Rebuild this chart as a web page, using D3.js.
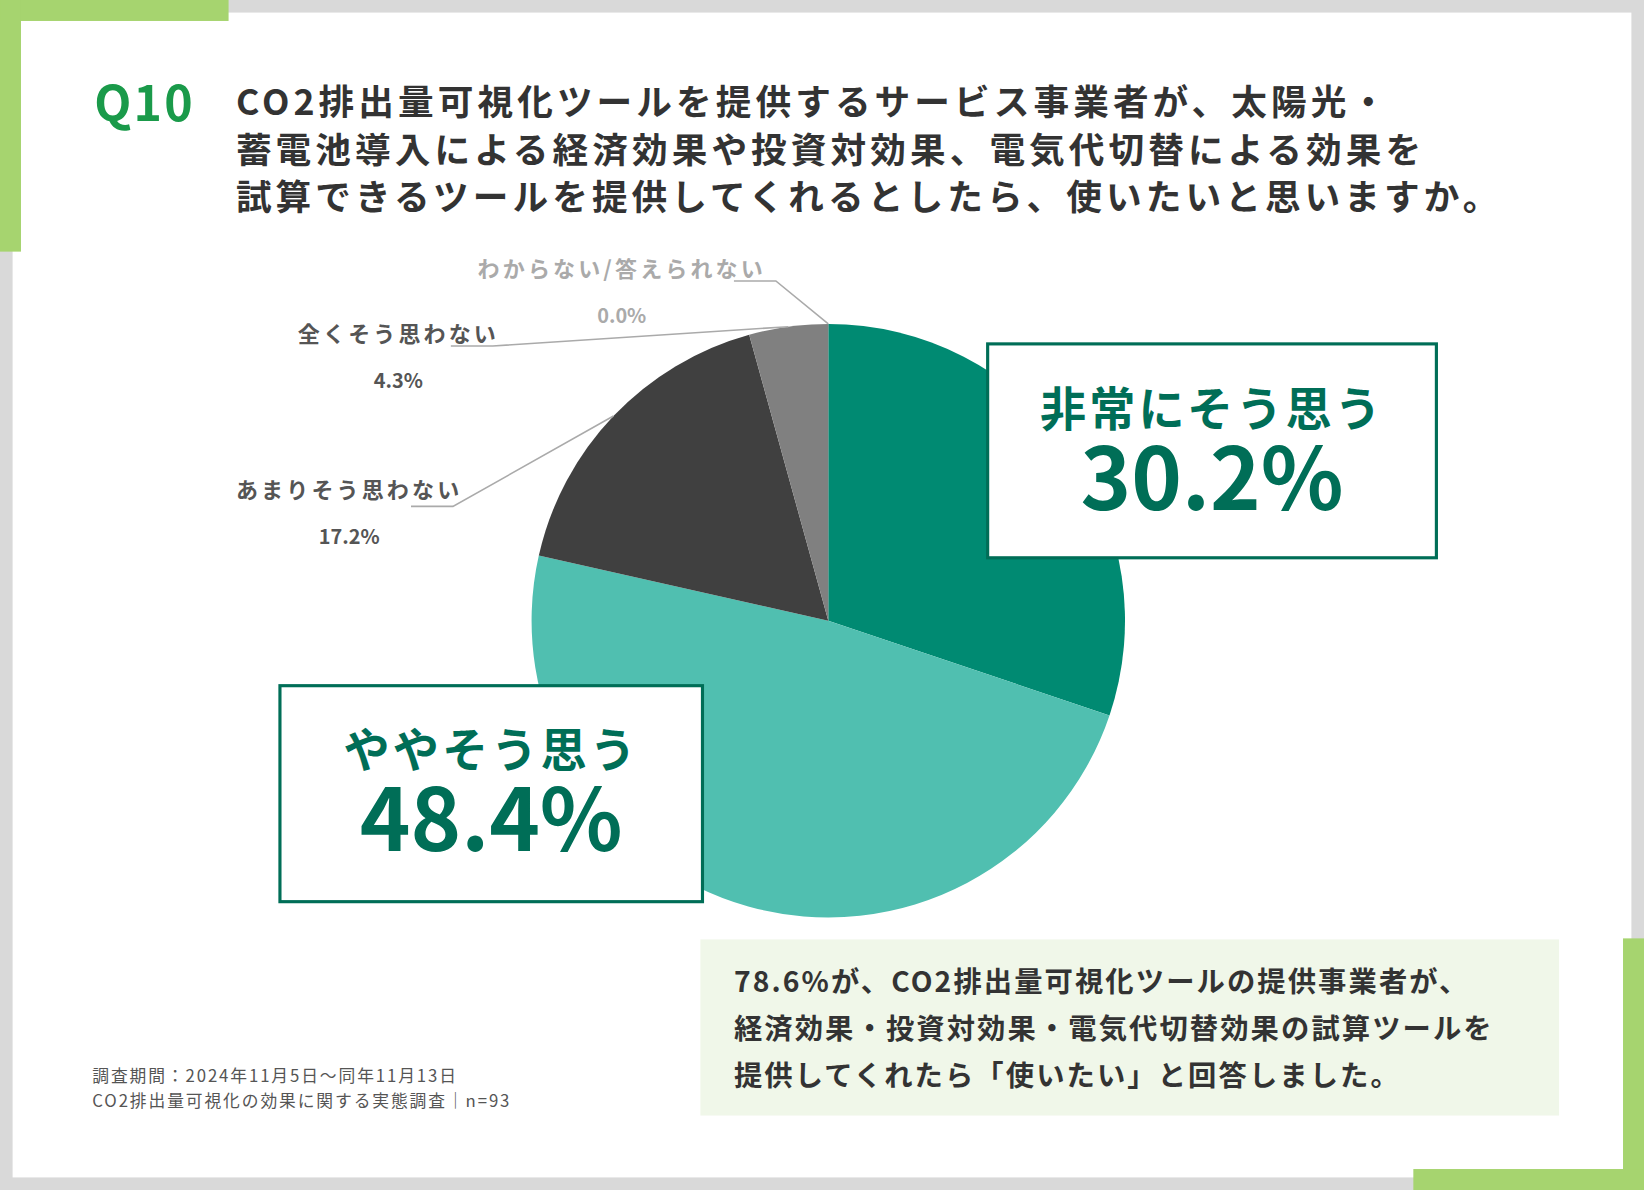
<!DOCTYPE html>
<html lang="ja">
<head>
<meta charset="utf-8">
<script src="https://cdn.jsdelivr.net/npm/d3@7"></script>
<style>
body { margin: 0; background: #fff; }
text { font-family: "Noto Sans CJK JP", "Noto Sans", sans-serif; }
</style>
</head>
<body>
<script>
var categories = ["非常にそう思う", "ややそう思う", "あまりそう思わない", "全くそう思わない", "わからない/答えられない"];
var values = [30.2, 48.4, 17.2, 4.3, 0.0];
var colors = ["#008a72", "#50bfb0", "#404040", "#808080", "#bbbbbb"];
var titleLines = ["CO2排出量可視化ツールを提供するサービス事業者が、太陽光・",
                  "蓄電池導入による経済効果や投資対効果、電気代切替による効果を",
                  "試算できるツールを提供してくれるとしたら、使いたいと思いますか。"];
var noteLines = ["78.6%が、CO2排出量可視化ツールの提供事業者が、",
                 "経済効果・投資対効果・電気代切替効果の試算ツールを",
                 "提供してくれたら「使いたい」と回答しました。"];
var footLines = ["調査期間：2024年11月5日～同年11月13日", "CO2排出量可視化の効果に関する実態調査｜n=93"];

var W = 1568, H = 1135;
var svg = d3.select("body").append("svg")
    .attr("width", 1644).attr("height", 1190)
    .attr("viewBox", "0 0 " + W + " " + H);

// frame
svg.append("rect").attr("width", W).attr("height", H).attr("fill", "#d9d9d9");
svg.append("rect").attr("x", 12).attr("y", 12).attr("width", W - 24).attr("height", H - 24).attr("fill", "#fff");
var green = "#a6d46f";
svg.append("rect").attr("x", 0).attr("y", 0).attr("width", 218).attr("height", 20).attr("fill", green);
svg.append("rect").attr("x", 0).attr("y", 0).attr("width", 20).attr("height", 240).attr("fill", green);
svg.append("rect").attr("x", 1548).attr("y", 895).attr("width", 20).attr("height", 240).attr("fill", green);
svg.append("rect").attr("x", 1348).attr("y", 1115).attr("width", 220).attr("height", 20).attr("fill", green);

// title
svg.append("text").attr("x", 90).attr("y", 115).text("Q10")
   .attr("font-size", 46).attr("font-weight", "bold").attr("letter-spacing", 2).attr("fill", "#1a9a4a");
svg.selectAll("text.title").data(titleLines).enter().append("text")
   .attr("class", "title").attr("x", 225).attr("y", function(d, i) { return 110 + i * 45; })
   .attr("font-size", 34).attr("font-weight", "bold").attr("letter-spacing", 3.9)
   .attr("fill", "#333").text(function(d) { return d; });

// pie
var cx = 790, cy = 592, r = 283;
var pie = d3.pie().sort(null).value(function(d) { return d; });
var arcs = pie(values);
var arc = d3.arc().innerRadius(0).outerRadius(r);
var g = svg.append("g").attr("transform", "translate(" + cx + "," + cy + ")");
g.selectAll("path").data(arcs).enter().append("path")
   .attr("d", arc).attr("fill", function(d, i) { return colors[i]; });

// small labels with leader lines
var small = [
  { i: 2, lx: 333, ly: 475, ex: 432, ey: 483 },
  { i: 3, lx: 380, ly: 326, ex: 470, ey: 330 },
  { i: 4, lx: 593, ly: 264, ex: 740, ey: 268 }
];
small.forEach(function(s) {
  var a = (arcs[s.i].startAngle + arcs[s.i].endAngle) / 2;
  var px = cx + Math.sin(a) * r, py = cy - Math.cos(a) * r;
  svg.append("polyline").attr("points", [s.ex - 40, s.ey, s.ex, s.ey, px, py].join(","))
     .attr("fill", "none").attr("stroke", "#aaa").attr("stroke-width", 1.5);
  var col = s.i === 4 ? "#aaa" : "#555";
  svg.append("text").attr("x", s.lx).attr("y", s.ly).attr("text-anchor", "middle")
     .attr("font-size", 21).attr("font-weight", "bold").attr("letter-spacing", 3).attr("fill", col).text(categories[s.i]);
  svg.append("text").attr("x", s.lx).attr("y", s.ly + 44).attr("text-anchor", "middle")
     .attr("font-size", 19).attr("font-weight", "bold").attr("fill", col).text(values[s.i].toFixed(1) + "%");
});

// big label boxes
var boxes = [
  { i: 0, x: 942, y: 328, w: 428, h: 204 },
  { i: 1, x: 267, y: 654, w: 403, h: 206 }
];
boxes.forEach(function(b) {
  svg.append("text").attr("x", b.x + b.w / 2).attr("y", b.y + 156).attr("text-anchor", "middle")
     .attr("font-size", 84).attr("font-weight", "bold").attr("fill", "#006e57").text(values[b.i].toFixed(1) + "%");
});
boxes.forEach(function(b) {
  svg.insert("rect", "text.big").attr("x", b.x).attr("y", b.y).attr("width", b.w).attr("height", b.h)
     .attr("fill", "#fff").attr("stroke", "#006e57").attr("stroke-width", 3);
});
boxes.forEach(function(b) {
  svg.append("text").attr("x", b.x + b.w / 2).attr("y", b.y + 78).attr("text-anchor", "middle")
     .attr("font-size", 44).attr("font-weight", "bold").attr("letter-spacing", 3).attr("fill", "#006e57").text(categories[b.i]);
  svg.append("text").attr("class", "big").attr("x", b.x + b.w / 2).attr("y", b.y + 158).attr("text-anchor", "middle")
     .attr("font-size", 82).attr("font-weight", "bold").attr("fill", "#006e57").text(values[b.i].toFixed(1) + "%");
});
svg.selectAll("text").filter(function() { return !this.classList.contains("big") && +d3.select(this).attr("font-size") === 84; }).remove();

// note
svg.append("rect").attr("x", 668).attr("y", 896).attr("width", 819).attr("height", 168).attr("fill", "#f0f7e9");
svg.selectAll("text.note").data(noteLines).enter().append("text")
   .attr("class", "note").attr("x", 700).attr("y", function(d, i) { return 946 + i * 45; })
   .attr("font-size", 27).attr("font-weight", "bold").attr("letter-spacing", 2)
   .attr("fill", "#333").text(function(d) { return d; });

// footnote
svg.selectAll("text.foot").data(footLines).enter().append("text")
   .attr("class", "foot").attr("x", 88).attr("y", function(d, i) { return 1032 + i * 24; })
   .attr("font-size", 16).attr("letter-spacing", 1.8).attr("fill", "#555").text(function(d) { return d; });
</script>
</body>
</html>
